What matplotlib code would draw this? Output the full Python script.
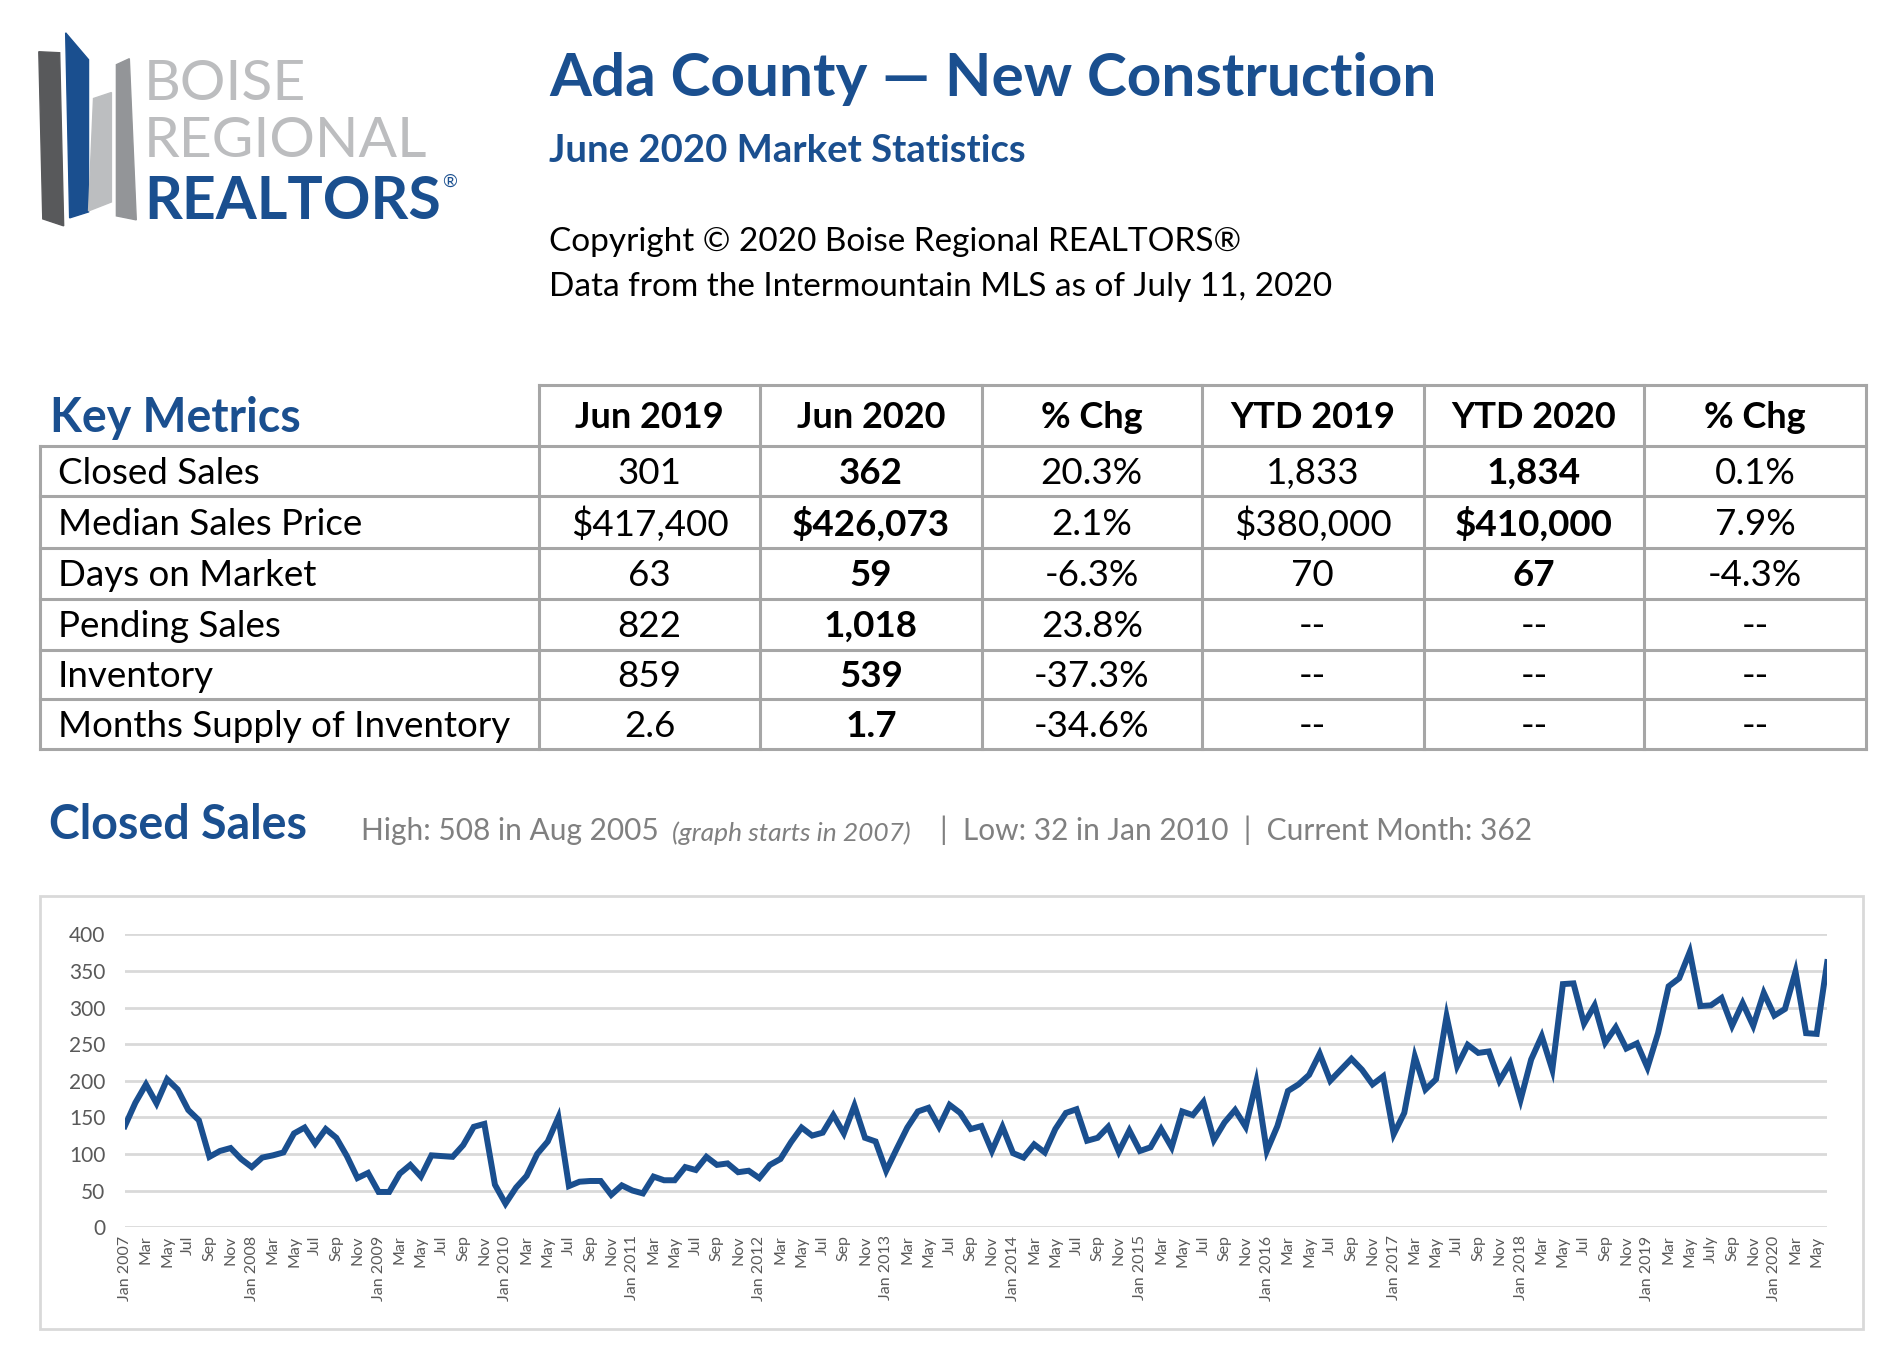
import matplotlib
matplotlib.use('Agg')
import matplotlib.pyplot as plt
from matplotlib.patches import Polygon, Rectangle
import numpy as np

plt.rcParams['font.family'] = ['Lato', 'DejaVu Sans']

BLUE = '#1a4f8f'
GRID = '#d9d9d9'
LINE = '#a6a6a6'

# monthly closed sales, Jan 2007 .. Jun 2020
sales = [
    138, 170, 195, 169, 202, 188, 160, 146, 96, 104, 108, 93,       # 2007
    82, 95, 98, 102, 128, 136, 114, 134, 122, 97, 67, 74,           # 2008
    48, 48, 73, 85, 69, 98, 97, 96, 112, 137, 141, 58,              # 2009
    32, 54, 70, 100, 117, 150, 56, 62, 63, 63, 44, 57,              # 2010
    50, 46, 69, 64, 64, 82, 78, 96, 85, 87, 75, 77,                 # 2011
    67, 85, 93, 116, 136, 125, 129, 153, 128, 166, 122, 117,        # 2012
    77, 107, 136, 158, 163, 137, 167, 156, 134, 138, 104, 137,      # 2013
    101, 95, 113, 102, 134, 156, 161, 118, 122, 137, 103, 132,      # 2014
    104, 109, 134, 109, 158, 153, 171, 119, 143, 160, 137, 198,     # 2015
    104, 138, 186, 195, 208, 237, 200, 215, 230, 215, 195, 206,     # 2016
    127, 156, 233, 188, 202, 288, 220, 249, 238, 240, 200, 224,     # 2017
    174, 229, 261, 215, 332, 333, 278, 303, 252, 273, 244, 251,     # 2018
    218, 265, 329, 340, 376, 302, 303, 313, 275, 306, 275, 320,     # 2019
    289, 298, 349, 265, 264, 362,                                   # 2020
]
months = ['Jan', 'Feb', 'Mar', 'Apr', 'May', 'Jun',
          'Jul', 'Aug', 'Sep', 'Oct', 'Nov', 'Dec']
tick_labels = []
for i in range(0, len(sales), 2):
    year = 2007 + i // 12
    m = months[i % 12]
    if m == 'Jan':
        tick_labels.append('Jan %d' % year)
    elif m == 'Jul' and year == 2019:
        tick_labels.append('July')
    else:
        tick_labels.append(m)

col_headers = ['Jun 2019', 'Jun 2020', '% Chg', 'YTD 2019', 'YTD 2020', '% Chg']
row_names = ['Closed Sales', 'Median Sales Price', 'Days on Market',
             'Pending Sales', 'Inventory', 'Months Supply of Inventory']
table_values = [
    ['301', '362', '20.3%', '1,833', '1,834', '0.1%'],
    ['$417,400', '$426,073', '2.1%', '$380,000', '$410,000', '7.9%'],
    ['63', '59', '-6.3%', '70', '67', '-4.3%'],
    ['822', '1,018', '23.8%', '--', '--', '--'],
    ['859', '539', '-37.3%', '--', '--', '--'],
    ['2.6', '1.7', '-34.6%', '--', '--', '--'],
]
bold_cols = [1, 4]

fig = plt.figure(figsize=(19, 13.68), dpi=100)

# background axes in (slightly scaled) pixel coordinates
bg = fig.add_axes([0, 0, 1, 1])
bg.set_xlim(0, 1910)
bg.set_ylim(1375, 0)
bg.axis('off')

# logo
bars = [
    ([(39, 52), (60, 53), (64, 227), (43, 220)], '#58595b'),
    ([(66, 33), (89, 60), (89, 213), (70, 219)], BLUE),
    ([(94, 99), (112, 93), (112, 203), (89, 212)], '#bcbec0'),
    ([(117, 65), (130, 59), (137, 221), (117, 217)], '#939598'),
]
for pts, c in bars:
    bg.add_patch(Polygon(pts, closed=True, color=c))
bg.text(145, 101, 'BOISE', fontsize=41, color='#bcbdbf', va='baseline')
bg.text(145, 158, 'REGIONAL', fontsize=41, color='#bcbdbf', va='baseline')
bg.text(145, 220, 'REALTORS', fontsize=42.5, color=BLUE, weight='bold',
        va='baseline')
bg.text(444, 188, '®', fontsize=13, color=BLUE)

# titles
bg.text(552, 96, 'Ada County \u2014 New Construction', fontsize=43.5,
        color=BLUE, weight='bold', va='baseline')
bg.text(552, 163, 'June 2020 Market Statistics', fontsize=27.5,
        color=BLUE, weight='bold', va='baseline')
bg.text(552, 252, 'Copyright \u00a9 2020 Boise Regional REALTORS\u00ae',
        fontsize=24, color='black', va='baseline')
bg.text(552, 298, 'Data from the Intermountain MLS as of July 11, 2020',
        fontsize=24, color='black', va='baseline')

# key metrics table
xs = [40, 542, 764, 987, 1208, 1431, 1653, 1876]
ys = [387, 448, 499, 551, 602, 653, 703, 753]
lw = 2.2
for i, x in enumerate(xs):
    y0 = ys[0] if i > 0 else ys[1]
    bg.plot([x, x], [y0, ys[-1]], color=LINE, lw=lw)
bg.plot([xs[1], xs[-1]], [ys[0], ys[0]], color=LINE, lw=lw)
for y in ys[1:]:
    bg.plot([xs[0], xs[-1]], [y, y], color=LINE, lw=lw)
bg.text(50, (ys[0] + ys[1]) / 2 + 3, 'Key Metrics', fontsize=33.5,
        color=BLUE, weight='bold', va='center')
for j, h in enumerate(col_headers):
    bg.text((xs[j + 1] + xs[j + 2]) / 2, (ys[0] + ys[1]) / 2 + 2, h,
            fontsize=26, weight='bold', ha='center', va='center')
for r, name in enumerate(row_names):
    yc = (ys[r + 1] + ys[r + 2]) / 2 + 2
    bg.text(58, yc, name, fontsize=26.5, va='center')
    for j, v in enumerate(table_values[r]):
        bold = j in bold_cols and v != '--'
        bg.text((xs[j + 1] + xs[j + 2]) / 2, yc, v, fontsize=26.5,
                ha='center', va='center',
                weight='bold' if bold else 'normal')

# section heading
bg.text(49, 829, 'Closed Sales', fontsize=33.5, color=BLUE, weight='bold',
        va='center')
gray = '#808080'
bg.text(363, 835, 'High: 508 in Aug 2005', fontsize=21.5, color=gray,
        va='center')
bg.text(676, 837, '(graph starts in 2007)', fontsize=19, color=gray,
        style='italic', va='center')
bg.text(945, 835, '|  Low: 32 in Jan 2010  |  Current Month: 362',
        fontsize=21.5, color=gray, va='center')

# chart frame
bg.add_patch(Rectangle((40, 901), 1833, 435, fill=False, edgecolor='#d9d9d9',
                       lw=2))

# line chart
ax = fig.add_axes([0.0657, 0.103, 0.896, 0.214])
x = np.arange(len(sales))
ax.plot(x, sales, color=BLUE, lw=4.3, solid_joinstyle='miter')
ax.set_xlim(0, len(sales) - 1)
ax.set_ylim(0, 400)
ax.set_yticks(range(0, 401, 50))
ax.yaxis.grid(True, color=GRID, lw=2)
ax.set_axisbelow(True)
ax.set_xticks(x[::2])
ax.set_xticklabels(tick_labels, rotation=90, fontsize=11.5, color='#595959')
ax.tick_params(axis='y', labelsize=15, labelcolor='#595959', length=0, pad=14)
ax.tick_params(axis='x', length=0, pad=6)
for s in ax.spines.values():
    s.set_visible(False)
ax.patch.set_alpha(0)

fig.savefig('out.png', dpi=100)
